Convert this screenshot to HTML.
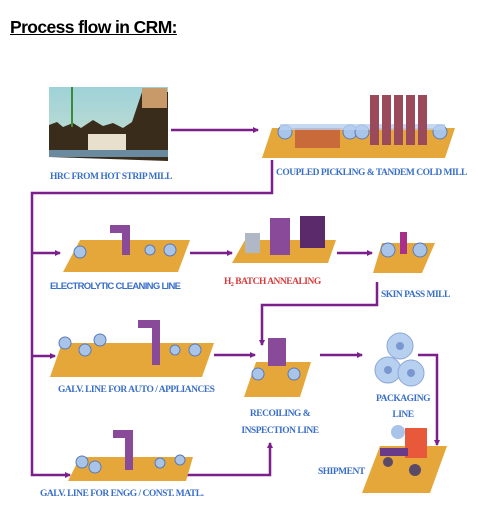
<!DOCTYPE html>
<html><head><meta charset="utf-8"><style>
body{margin:0;background:#fff;width:478px;height:521px;overflow:hidden}
.t{position:absolute;left:10px;top:17px;font:bold 17.5px "Liberation Sans",sans-serif;letter-spacing:-0.6px;text-decoration:underline;color:#000}
svg{position:absolute;left:0;top:0}
.l{font-family:"Liberation Serif",serif;font-size:9.5px;font-weight:bold;fill:#3a6fc8;letter-spacing:-0.5px}
</style></head><body>
<div class="t">Process flow in CRM:</div>
<svg width="478" height="521" viewBox="0 0 478 521">
<defs>
<marker id="a" markerWidth="6" markerHeight="6" refX="5" refY="3" orient="auto" markerUnits="userSpaceOnUse"><path d="M0,0L6,3L0,6z" fill="#7a1f8c"/></marker>
<linearGradient id="sky" x1="0" y1="0" x2="0" y2="1"><stop offset="0" stop-color="#9ed2d8"/><stop offset="1" stop-color="#c8dfd0"/></linearGradient>
</defs>
<!-- HRC image -->
<rect x="49" y="87" width="119" height="70" fill="url(#sky)"/>
<path d="M49,157V125l8-3 6 5 10-4 8 5 12-8 10 6 10-3 10 5 9-6 10-30h26v69z" fill="#3a2c1a"/>
<rect x="88" y="134" width="38" height="16" fill="#e8e0cc"/>
<rect x="142" y="88" width="25" height="20" fill="#c89a6a"/>
<rect x="49" y="150" width="119" height="7" fill="#6a8aa0"/>
<rect x="71" y="87" width="2" height="40" fill="#3a8a3a"/>
<text class="l" x="50" y="179">HRC FROM HOT STRIP MILL</text>
<!-- CPTCM -->
<polygon points="272,128 455,128 445,158 262,158" fill="#e6a73a"/>
<rect x="295" y="128" width="45" height="20" fill="#c86a3a"/>
<g fill="#a8c4e8" stroke="#5a7ab8"><circle cx="285" cy="132" r="7"/><circle cx="350" cy="132" r="7"/><circle cx="362" cy="132" r="7"/><circle cx="440" cy="132" r="7"/></g>
<rect x="280" y="124" width="165" height="6" fill="#b8d0f0" opacity=".8"/>
<g fill="#9a4a5a"><rect x="370" y="95" width="9" height="50"/><rect x="382" y="95" width="9" height="50"/><rect x="394" y="95" width="9" height="50"/><rect x="406" y="95" width="9" height="50"/><rect x="418" y="95" width="9" height="50"/></g>
<text class="l" x="276" y="175">COUPLED PICKLING &amp; TANDEM COLD MILL</text>
<!-- connectors -->
<g stroke="#7a1f8c" stroke-width="2.5" fill="none">
<line x1="171" y1="130" x2="258" y2="130" marker-end="url(#a)"/>
<polyline points="272,160 272,193 32,193 32,475 70,475" marker-end="url(#a)"/>
<line x1="32" y1="253" x2="60" y2="253" marker-end="url(#a)"/>
<line x1="32" y1="356" x2="55" y2="356" marker-end="url(#a)"/>
<line x1="190" y1="253" x2="232" y2="253" marker-end="url(#a)"/>
<line x1="337" y1="253" x2="372" y2="253" marker-end="url(#a)"/>
<polyline points="377,282 377,305 262,305 262,345" marker-end="url(#a)"/>
<line x1="214" y1="355" x2="255" y2="355" marker-end="url(#a)"/>
<line x1="320" y1="355" x2="362" y2="355" marker-end="url(#a)"/>
<polyline points="418,355 437,355 437,445" marker-end="url(#a)"/>
<polyline points="187,475 270,475 270,443" marker-end="url(#a)"/>
</g>
<!-- ECL -->
<polygon points="80,240 190,240 178,272 63,272" fill="#e6a73a"/>
<path d="M110,225h20v30h-8v-22h-12z" fill="#8a4a9a"/>
<g fill="#a8c4e8" stroke="#5a7ab8"><circle cx="80" cy="252" r="6"/><circle cx="170" cy="250" r="6"/><circle cx="150" cy="250" r="5"/></g>
<text x="50" y="289" font-family="Liberation Sans,sans-serif" font-size="9.5" font-weight="bold" fill="#3a6fc8" letter-spacing="-0.7">ELECTROLYTIC CLEANING LINE</text>
<!-- annealing -->
<polygon points="245,240 336,240 328,263 232,263" fill="#e6a73a"/>
<rect x="245" y="233" width="15" height="20" fill="#b0b8c8"/>
<rect x="270" y="218" width="20" height="37" fill="#8a4a9a"/>
<rect x="300" y="216" width="25" height="32" fill="#5a2a6a"/>
<text x="224" y="284" font-family="Liberation Serif,serif" font-size="9.5" font-weight="bold" fill="#d83a3a" letter-spacing="-0.5">H<tspan font-size="6" dy="2">2</tspan><tspan dy="-2"> BATCH ANNEALING</tspan></text>
<!-- skin pass -->
<polygon points="382,243 435,243 422,273 373,273" fill="#e6a73a"/>
<g fill="#a8c4e8" stroke="#5a7ab8"><circle cx="388" cy="250" r="7"/><circle cx="420" cy="250" r="7"/></g>
<rect x="400" y="232" width="7" height="22" fill="#a8308a"/>
<text class="l" x="381" y="297">SKIN PASS MILL</text>
<!-- galv auto -->
<polygon points="62,343 214,343 202,377 50,377" fill="#e6a73a"/>
<path d="M138,320h22v45h-8v-37h-14z" fill="#8a4a9a"/>
<g fill="#a8c4e8" stroke="#5a7ab8"><circle cx="65" cy="343" r="6"/><circle cx="85" cy="350" r="6"/><circle cx="100" cy="340" r="6"/><circle cx="195" cy="350" r="6"/><circle cx="175" cy="350" r="5"/></g>
<text class="l" x="58" y="392">GALV. LINE FOR AUTO / APPLIANCES</text>
<!-- recoil -->
<polygon points="256,362 311,362 300,397 244,397" fill="#e6a73a"/>
<rect x="268" y="338" width="18" height="28" fill="#8a4a9a"/>
<g fill="#a8c4e8" stroke="#5a7ab8"><circle cx="258" cy="374" r="6"/><circle cx="294" cy="374" r="6"/></g>
<text class="l" x="280" y="416" text-anchor="middle">RECOILING &amp;</text>
<text class="l" x="280" y="433" text-anchor="middle">INSPECTION LINE</text>
<!-- packaging -->
<g fill="#b8d0f0" stroke="#8aa8d8"><circle cx="400" cy="346" r="13"/><circle cx="388" cy="370" r="13"/><circle cx="411" cy="373" r="13"/></g>
<g fill="#7a98d0"><circle cx="400" cy="346" r="4"/><circle cx="388" cy="370" r="4"/><circle cx="411" cy="373" r="4"/></g>
<text class="l" x="403" y="401" text-anchor="middle">PACKAGING</text>
<text class="l" x="403" y="417" text-anchor="middle">LINE</text>
<!-- shipment -->
<polygon points="380,446 447,446 430,493 362,493" fill="#e6a73a"/>
<rect x="405" y="428" width="22" height="30" fill="#e8583a"/>
<rect x="380" y="448" width="28" height="8" fill="#6a3a8a"/>
<g fill="#5a4a6a"><circle cx="388" cy="462" r="5"/><circle cx="415" cy="470" r="6"/></g>
<circle cx="398" cy="432" r="7" fill="#a8c4e8"/>
<text class="l" x="318" y="474">SHIPMENT</text>
<!-- galv engg -->
<polygon points="80,457 193,457 186,481 68,481" fill="#e6a73a"/>
<path d="M113,430h20v40h-8v-32h-12z" fill="#8a4a9a"/>
<g fill="#a8c4e8" stroke="#5a7ab8"><circle cx="82" cy="462" r="6"/><circle cx="95" cy="467" r="6"/><circle cx="180" cy="460" r="5"/><circle cx="160" cy="463" r="5"/></g>
<text class="l" x="40" y="496">GALV. LINE FOR ENGG / CONST. MATL.</text>
</svg>
</body></html>
